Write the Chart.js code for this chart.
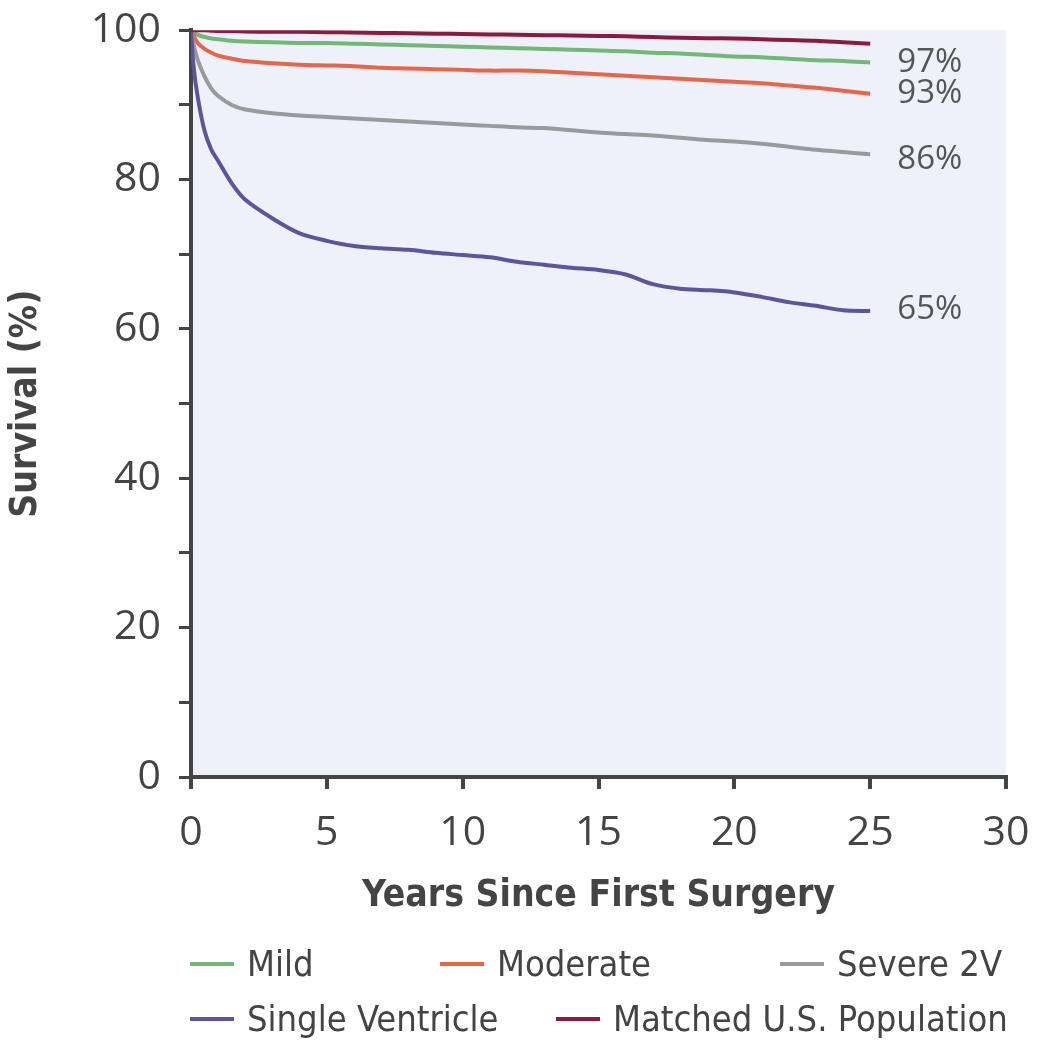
<!DOCTYPE html>
<html>
<head>
<meta charset="utf-8">
<script src="https://cdn.jsdelivr.net/npm/chart.js@4"></script>
<style>
body{margin:0;background:#fff;}
#wrap{position:relative;width:1058px;height:1040px;}
#legend{position:absolute;left:0;top:0;width:1058px;height:1040px;pointer-events:none;}
.item{position:absolute;display:flex;align-items:center;font-family:"DejaVu Sans Condensed","Open Sans",sans-serif;font-size:36px;color:#444;white-space:nowrap;}
.item span.sw{display:inline-block;width:44px;height:4px;margin-right:13px;}
</style>
</head>
<body>
<div id="wrap">
<canvas id="survivalChart" width="1058" height="1040"></canvas>
<div id="legend"></div>
</div>
<script>

const years = [0,0.1,0.25,0.5,0.75,1,1.5,2,3,4,5,6,7,8,9,10,11,12,13,14,15,16,17,18,19,20,21,22,23,24,25];

const mild = [100,99.7,99.4,99.1,98.9,98.8,98.6,98.5,98.4,98.3,98.3,98.2,98.1,98.0,97.9,97.8,97.7,97.6,97.5,97.4,97.3,97.2,97.0,96.9,96.7,96.5,96.4,96.2,96.0,95.9,95.7];

const moderate = [100,99.2,98.3,97.5,97.0,96.6,96.2,95.9,95.6,95.4,95.3,95.2,95.0,94.9,94.8,94.7,94.6,94.6,94.5,94.3,94.1,93.9,93.7,93.5,93.3,93.1,92.9,92.6,92.3,91.9,91.5];

const severe2V = [100,98,96,93.8,92.2,91.2,90,89.4,88.9,88.6,88.4,88.2,88.0,87.8,87.6,87.4,87.2,87.0,86.9,86.6,86.3,86.1,85.9,85.6,85.3,85.1,84.8,84.4,84.0,83.7,83.4];

const singleVentricle = [100,95,91,86.5,84,82.5,79.5,77.3,74.8,72.8,71.8,71.1,70.8,70.6,70.2,69.9,69.6,69.0,68.6,68.2,67.9,67.3,66.0,65.4,65.2,64.9,64.3,63.6,63.1,62.5,62.4];

const matchedUS = [100,100,100,100,99.95,99.9,99.9,99.85,99.8,99.8,99.75,99.7,99.65,99.6,99.55,99.5,99.45,99.4,99.35,99.3,99.25,99.2,99.1,99.0,98.95,98.9,98.8,98.7,98.6,98.4,98.2];

const seriesNames = ["Mild","Moderate","Severe 2V","Single Ventricle","Matched U.S. Population"];
const seriesColors = ["#72b775","#e6664a","#9a9a9c","#5b559e","#8c1a3e"];
const seriesData = [mild,moderate,severe2V,singleVentricle,matchedUS];

/* end labels at the right of the curves */
const endLabels = ["97%","93%","86%","65%"];
const endLabelX = 26;
const endLabelY = [95.7,91.5,82.7,62.6];

/* legend placement (px) */
const legendPos = [[190,965],[440,965],[780,965],[190,1020],[556,1020]];

const legendBox = document.getElementById("legend");
seriesNames.forEach((name,i)=>{
const d = document.createElement("div");
d.className = "item";
d.style.left = legendPos[i][0]+"px";
d.style.top = (legendPos[i][1]-22)+"px";
d.innerHTML = `<span class="sw" style="background:${seriesColors[i]}"></span>${name}`;
legendBox.appendChild(d);
});

const plotBg = {
id:"plotBg",
beforeDraw(chart){
const {ctx,chartArea} = chart;
ctx.save();
ctx.fillStyle = "#eef1f9";
ctx.fillRect(chartArea.left,chartArea.top,chartArea.right-chartArea.left,chartArea.bottom-chartArea.top);
ctx.restore();
}
};

const pctLabels = {
id:"pctLabels",
afterDatasetsDraw(chart){
const {ctx,scales} = chart;
ctx.save();
ctx.font = "33px 'Open Sans', sans-serif";
ctx.fillStyle = "#555";
ctx.textAlign = "left";
ctx.textBaseline = "middle";
endLabels.forEach((t,i)=>{
ctx.fillText(t,scales.x.getPixelForValue(endLabelX),scales.y.getPixelForValue(endLabelY[i]));
});
ctx.restore();
}
};

const tickFont = {family:"'Open Sans', sans-serif",size:41};
const yTickFont = {family:"'Open Sans', sans-serif",size:41,lineHeight:0.6};
const titleFont = {family:"'DejaVu Sans Condensed','Open Sans',sans-serif",size:37,weight:"bold"};

new Chart(
document.getElementById("survivalChart"),
{
type:"line",
data:{
datasets:seriesData.map((arr,i)=>({
label:seriesNames[i],
data:arr.map((v,j)=>({x:years[j],y:v})),
borderColor:seriesColors[i],
borderWidth:4,
pointRadius:0,
tension:0.3,
fill:false
})).reverse()
},
options:{
responsive:false,
animation:false,
layout:{
padding:{top:13,right:52,bottom:117,left:0}
},
plugins:{
legend:{display:false},
tooltip:{enabled:false}
},
scales:{
x:{
type:"linear",
min:0,
max:30,
ticks:{stepSize:5,font:tickFont,color:"#444",padding:20,maxRotation:0},
grid:{drawOnChartArea:false,drawTicks:true,tickLength:12,color:"#444",lineWidth:4},
border:{display:true,color:"#444",width:4},
title:{display:true,text:"Years Since First Surgery",font:titleFont,color:"#444",padding:{top:6}},
afterFit(scale){scale.height = 146;}
},
y:{
min:0,
max:100,
ticks:{
stepSize:10,
font:yTickFont,
color:"#444",
padding:18,
callback:(v)=> v % 20 === 0 ? String(v) : ""
},
grid:{drawOnChartArea:false,drawTicks:true,tickLength:12,color:"#444",lineWidth:3},
border:{display:true,color:"#444",width:4},
title:{display:true,text:"Survival (%)",font:titleFont,color:"#444",padding:{bottom:4}},
afterFit(scale){scale.width = 191;}
}
}
},
plugins:[plotBg,pctLabels]
}
);

</script>
</body>
</html>
